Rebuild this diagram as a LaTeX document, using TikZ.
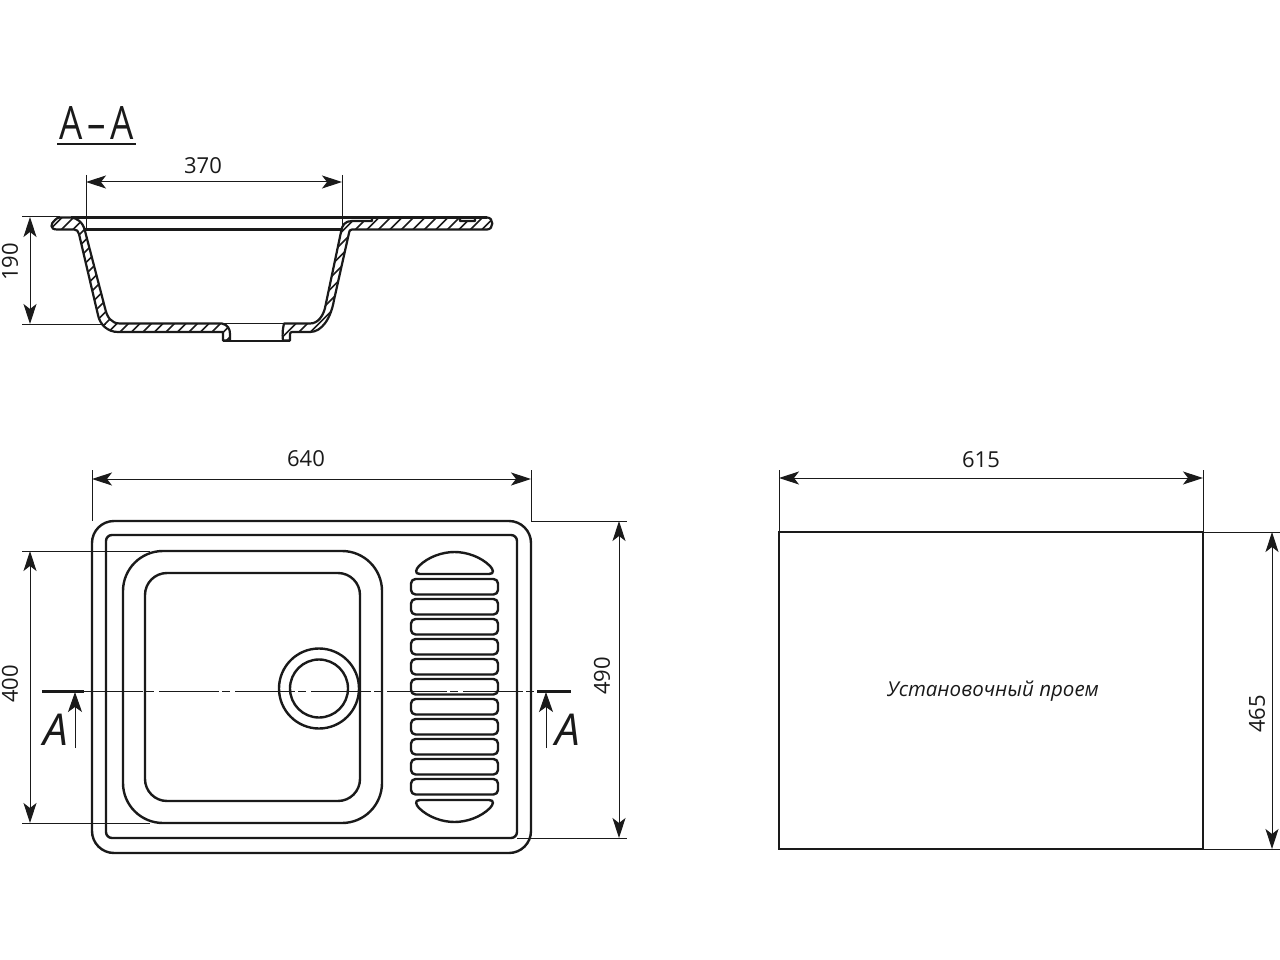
\documentclass[tikz,border=0pt]{standalone}
\usepackage{fontspec}
\setmainfont{Open Sans}
\usetikzlibrary{arrows.meta}
\definecolor{ink}{HTML}{1A1A1A}
\tikzset{
  heavy/.style={draw=ink,line width=2.4pt,line join=round},
  medium/.style={draw=ink,line width=2.2pt,line join=round},
  thin/.style={draw=ink,line width=1pt},
  dimline/.style={draw=ink,line width=1pt,{Stealth[length=20pt,width=13pt,inset=5pt]}-{Stealth[length=20pt,width=13pt,inset=5pt]}},
  cutarrow/.style={draw=ink,line width=1pt,-{Stealth[length=20pt,width=14pt,inset=5pt]}},
  cutbar/.style={draw=ink,line width=3pt},
  hatchline/.style={draw=ink,line width=1.5pt},
  axisline/.style={draw=ink,line width=1pt,dash pattern=on 60pt off 3pt on 8pt off 5pt},
  dimtext/.style={font=\fontsize{22}{24}\selectfont,text=ink,inner sep=0pt},
  cuttext/.style={font=\fontsize{44}{46}\selectfont\itshape,text=ink,inner sep=0pt},
  note/.style={font=\fontsize{20.5}{24}\selectfont\itshape,text=ink,inner sep=0pt}
}
\newcommand{\leftsection}{(60,217.5) -- (71,217.5) .. controls (77,218) and (83,222) .. (85,231) -- (105,308) .. controls (107,317) and (111,323.5) .. (120,323.5) -- (222,323.5) .. controls (228,325) and (230,329) .. (230,334) -- (230,340.5) -- (223,340.5) -- (223,332) -- (118,332) .. controls (108,332) and (100,325) .. (98,315) -- (79,234) .. controls (78,231) and (77,229.5) .. (74,229.5) -- (57,229.5) .. controls (50,229.5) and (50,224) .. (55,220) .. controls (57,218) and (58,217.5) .. (60,217.5) -- cycle}
\newcommand{\rightsection}{(284,323.5) -- (310,323.5) .. controls (318,323.5) and (323,316) .. (325,308) -- (341,232) .. controls (342,225) and (345,221) .. (352,221) -- (372,221) -- (372,217.5) -- (460,217.5) -- (460,221) -- (475,221) -- (475,217.5) -- (487,217.5) .. controls (494,217.5) and (494,229.5) .. (487,229.5) -- (352,229.5) .. controls (350,229.5) and (349,231) .. (349,233) -- (334,300) .. controls (331,318) and (322,332) .. (310,332) -- (292,332) .. controls (291,332) and (290,333) .. (290,334) -- (290,340.5) -- (283,340.5) .. controls (282,333) and (283,328) .. (284,323.5) -- cycle}
\begin{document}
\begin{tikzpicture}[x=1pt,y=-1pt]
\useasboundingbox (0,0) rectangle (1280,960);
\fill[white] (0,0) rectangle (1280,960);

% ---------- Section A-A
\node[font=\fontsize{46}{48}\selectfont,text=ink,inner sep=0pt] (titleAA) at (96.5,123) {\scalebox{0.8}[1]{A\kern6pt–\kern6ptA}};
\draw[draw=ink,line width=1.8pt] (57,144) -- (136,144);

\begin{scope}
  \clip \leftsection;
  \foreach \k in {-120,-108.5,...,460} {
    \draw[hatchline] (\k+20,345) -- (\k+160,205);
  }
\end{scope}
\begin{scope}
  \clip \rightsection;
  \foreach \k in {-120,-108.5,...,360} {
    \draw[hatchline] (\k+130,345) -- (\k+270,205);
  }
\end{scope}
\draw[medium] \leftsection;
\draw[medium] \rightsection;
\draw[medium] (71,217.5) -- (487,217.5);
\draw[medium] (85,229.5) -- (342,229.5);
\draw[thin] (222,323.5) -- (284,323.5);
\draw[medium] (223,341) -- (290,341);

\draw[thin] (22,217) -- (60,217);
\draw[thin] (22,324) -- (106,324);
\coordinate (s1) at (86,182); \coordinate (s2) at (342,182);
\draw[thin] (86,175) -- (86,229);
\draw[thin] (342,175) -- (342,229);
\draw[dimline] (s1) -- (s2);
\node[dimtext] (d370) at (203,166) {370};
\coordinate (s3) at (30,217); \coordinate (s4) at (30,324);
\draw[dimline] (s3) -- (s4);
\node[dimtext,rotate=90] (d190) at (10,262) {190};

% ---------- Plan view
\draw[heavy,rounded corners=22pt] (92,521) rectangle (531,853);
\draw[heavy,rounded corners=6pt] (106,535) rectangle (517,838);
\draw[heavy,rounded corners=40pt] (123,551) rectangle (382,823);
\draw[heavy,rounded corners=22pt] (145,573) rectangle (360,801);
\node[circle,heavy,minimum size=80pt,inner sep=0pt,outer sep=0pt] (drainOuter) at (319,688.5) {};
\node[circle,heavy,minimum size=58pt,inner sep=0pt,outer sep=0pt] (drainInner) at (319,688.5) {};

\foreach \y in {579,599,...,779} {
  \draw[heavy,rounded corners=4.5pt] (411,\y) rectangle (498,\y+15.5);
}
\draw[heavy,line join=round] (420,574) .. controls (414,574) and (416,569) .. (419,566) .. controls (428,557) and (442,552) .. (454.5,552) .. controls (467,552) and (481,557) .. (490,566) .. controls (493,569) and (495,574) .. (489,574) -- cycle;
\draw[heavy,line join=round] (420,800) .. controls (414,800) and (416,805) .. (419,808) .. controls (428,817) and (442,822) .. (454.5,822) .. controls (467,822) and (481,817) .. (490,808) .. controls (493,805) and (495,800) .. (489,800) -- cycle;

% axis and section marks
\draw[axisline] (83,691) -- (537,691);
\draw[cutbar] (42,691) -- (84,691);
\draw[cutbar] (537,691) -- (571,691);
\coordinate (c1) at (75,748); \coordinate (c1t) at (75,692);
\coordinate (c2) at (546,748); \coordinate (c2t) at (546,692);
\draw[cutarrow] (c1) -- (c1t);
\draw[cutarrow] (c2) -- (c2t);
\node[cuttext] (cutL) at (56,730) {A};
\node[cuttext] (cutR) at (568,730) {A};

% plan dimensions
\draw[thin] (92,470) -- (92,521);
\draw[thin] (531,470) -- (531,521);
\coordinate (p1) at (92,479); \coordinate (p2) at (531,479);
\draw[dimline] (p1) -- (p2);
\node[dimtext] (d640) at (306,459) {640};

\draw[thin] (531,521) -- (627,521);
\draw[thin] (517,838) -- (627,838);
\coordinate (p3) at (619,521); \coordinate (p4) at (619,838);
\draw[dimline] (p3) -- (p4);
\node[dimtext,rotate=90] (d490) at (602,676) {490};

\draw[thin] (22,551) -- (150,551);
\draw[thin] (22,823) -- (150,823);
\coordinate (p5) at (30,551); \coordinate (p6) at (30,823);
\draw[dimline] (p5) -- (p6);
\node[dimtext,rotate=90] (d400) at (10,684) {400};

% ---------- Cut-out
\node[draw=ink,line width=2pt,minimum width=424pt,minimum height=317pt,inner sep=0pt,outer sep=0pt,anchor=north west] (cutout) at (779,532) {};
\node[note] (opening) at (993,691) {Установочный проем};
\draw[thin] (779,470) -- (779,532);
\draw[thin] (1203,470) -- (1203,532);
\coordinate (q1) at (779,478); \coordinate (q2) at (1203,478);
\draw[dimline] (q1) -- (q2);
\node[dimtext] (d615) at (981,460) {615};
\draw[thin] (1203,532) -- (1280,532);
\draw[thin] (1203,849) -- (1280,849);
\coordinate (q3) at (1272,532); \coordinate (q4) at (1272,849);
\draw[dimline] (q3) -- (q4);
\node[dimtext,rotate=90] (d465) at (1257,714) {465};
\end{tikzpicture}
\end{document}
